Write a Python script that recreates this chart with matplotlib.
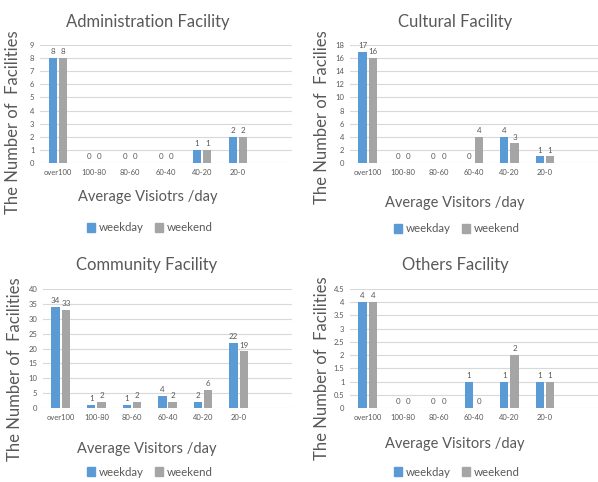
import matplotlib
matplotlib.use("Agg")
import matplotlib.pyplot as plt
from matplotlib.patches import Patch
import numpy as np

categories = ["over100", "100-80", "80-60", "60-40", "40-20", "20-0", ""]

admin_weekday = [8, 0, 0, 0, 1, 2]
admin_weekend = [8, 0, 0, 0, 1, 2]
cultural_weekday = [17, 0, 0, 0, 4, 1]
cultural_weekend = [16, 0, 0, 4, 3, 1]
community_weekday = [34, 1, 1, 4, 2, 22]
community_weekend = [33, 2, 2, 2, 6, 19]
others_weekday = [4, 0, 0, 1, 1, 1]
others_weekend = [4, 0, 0, 0, 2, 1]

titles = ["Administration Facility", "Cultural Facility", "Community Facility", "Others Facility"]
xlabels = ["Average Visiotrs /day", "Average Visitors /day", "Average Visitors /day", "Average Visitors /day"]
ylabels = ["The Number of  Facilities", "The Number of  Facilies", "The Number of  Facilities", "The Number of  Facilities"]
yticks_list = [np.arange(0, 10, 1), np.arange(0, 20, 2), np.arange(0, 45, 5), np.arange(0, 5, 0.5)]
ymaxes = [9, 18, 40, 4.5]

BLUE = "#5B9BD5"
GRAY = "#A5A5A5"
TXT = "#595959"
GRID = "#D9D9D9"
FONT = "Lato"

W, H = 598, 482
fig = plt.figure(figsize=(W / 100, H / 100), dpi=100)


def fx(x):
    return x / W


def fy(y):
    return 1 - y / H


panels = [
    dict(box=(40, 45, 292, 163), title=(148, 22), xl=(148, 197), yl=(13, 122), lg=(150, 228),
         wd=admin_weekday, we=admin_weekend),
    dict(box=(350, 45, 598, 163), title=(455, 22), xl=(455, 203), yl=(322, 117), lg=(457, 229),
         wd=cultural_weekday, we=cultural_weekend),
    dict(box=(43, 289, 292, 408), title=(147, 265), xl=(147, 449), yl=(15, 369), lg=(150, 472),
         wd=community_weekday, we=community_weekend),
    dict(box=(350, 289, 598, 408), title=(455, 265), xl=(455, 444), yl=(322, 368), lg=(457, 472),
         wd=others_weekday, we=others_weekend),
]

for i, p in enumerate(panels):
    l, t, r, b = p["box"]
    ax = fig.add_axes([fx(l), fy(b), (r - l) / W, (b - t) / H])
    x = np.arange(len(p["wd"]))
    off, bw = 0.145, 0.235
    b1 = ax.bar(x - off, p["wd"], bw, color=BLUE, zorder=3)
    b2 = ax.bar(x + off, p["we"], bw, color=GRAY, zorder=3)
    for bars in (b1, b2):
        for rect in bars:
            h = rect.get_height()
            ax.annotate(f"{h:g}", (rect.get_x() + rect.get_width() / 2, h),
                        xytext=(0, 2), textcoords="offset points", ha="center", va="bottom",
                        fontsize=5.8, color=TXT, family=FONT)
    ax.set_xlim(-0.5, len(categories) - 0.5)
    ax.set_ylim(0, ymaxes[i])
    ax.set_xticks(np.arange(len(categories)))
    ax.set_xticklabels(categories)
    ax.set_yticks(yticks_list[i])
    ax.set_yticklabels([f"{v:g}" for v in yticks_list[i]])
    ax.tick_params(length=0, labelsize=5.5, labelcolor=TXT, pad=4)
    for lab in ax.get_xticklabels() + ax.get_yticklabels():
        lab.set_family(FONT)
    for s in ax.spines.values():
        s.set_visible(False)
    ax.grid(axis="y", color=GRID, linewidth=0.8, zorder=0)
    ax.set_axisbelow(True)

    fig.text(fx(p["title"][0]), fy(p["title"][1]), titles[i], ha="center", va="center",
             fontsize=12, color=TXT, family=FONT)
    fig.text(fx(p["xl"][0]), fy(p["xl"][1]), xlabels[i], ha="center", va="center",
             fontsize=10.5, color=TXT, family=FONT)
    fig.text(fx(p["yl"][0]), fy(p["yl"][1]), ylabels[i], ha="center", va="center",
             rotation=90, fontsize=12, color=TXT, family=FONT)
    handles = [Patch(color=BLUE), Patch(color=GRAY)]
    fig.legend(handles, ["weekday", "weekend"], loc="center",
               bbox_to_anchor=(fx(p["lg"][0]), fy(p["lg"][1])), ncol=2, frameon=False,
               handlelength=0.7, handleheight=0.9, handletextpad=0.3, columnspacing=1.0,
               prop={"family": FONT, "size": 8.3}, labelcolor=TXT)

fig.savefig("out.png", dpi=100, facecolor="white")
